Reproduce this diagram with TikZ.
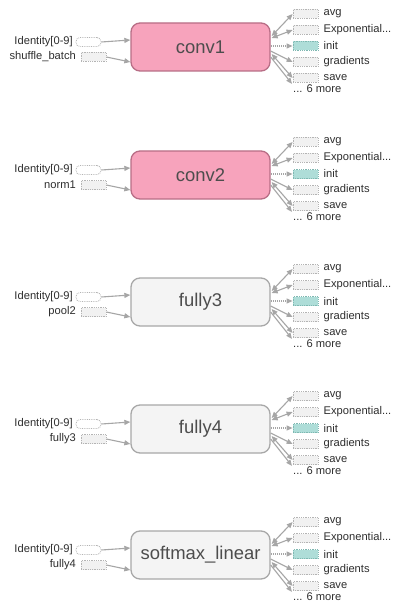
\documentclass[tikz,border=0pt]{standalone}
\usepackage{fontspec}
\setmainfont{Liberation Sans}
\usetikzlibrary{arrows.meta,calc}
\definecolor{pinkf}{HTML}{F7A3BC}
\definecolor{pinkd}{HTML}{B86E86}
\definecolor{grayf}{HTML}{F4F4F4}
\definecolor{grayd}{HTML}{A8A8A8}
\definecolor{smallf}{HTML}{F1F1F1}
\definecolor{dotc}{HTML}{B4B4B4}
\definecolor{initf}{HTML}{AEDDD8}
\definecolor{initd}{HTML}{7FB8B2}
\definecolor{textc}{HTML}{2E2E2E}
\definecolor{arrc}{HTML}{A6A6A6}
\begin{document}
\begin{tikzpicture}[x=1bp,y=-1bp,
  mainbox/.style={draw, rounded corners=9bp, minimum width=139bp, minimum height=48bp,
    line width=1.3bp, font=\fontsize{18.5}{20}\selectfont, text=textc!85, inner sep=0},
  pinkbox/.style={mainbox, fill=pinkf, draw=pinkd},
  graybox/.style={mainbox, fill=grayf, draw=grayd},
  smallbox/.style={draw=dotc, densely dotted, fill=smallf, minimum width=25bp,
    minimum height=9bp, inner sep=0, line width=0.8bp},
  initbox/.style={smallbox, fill=initf, draw=initd},
  idbox/.style={smallbox, fill=white, rounded corners=4bp},
  lab/.style={font=\fontsize{11.2}{12}\selectfont, text=textc, inner sep=0},
  tip/.tip={Triangle[length=6bp,width=5bp]},
  conn/.style={draw=arrc, line width=1.1bp, -tip},
  bconn/.style={draw=arrc, line width=1.1bp, tip-tip},
  dconn/.style={draw=arrc, line width=1.1bp, densely dotted, -tip}
]
\fill[white] (0,0) rectangle (392,603);
\path[use as bounding box] (0,0) rectangle (392,603);
\foreach \c/\nm/\sty/\inp [count=\i] in {
   47/conv1/pinkbox/shuffle\_batch,
   175/conv2/pinkbox/norm1,
   302/fully3/graybox/pool2,
   429/fully4/graybox/fully3,
   555/softmax\_linear/graybox/fully4}{
  % main node
  \node[\sty] (m\i) at (200.5,\c) {\nm};
  % inputs
  \node[idbox] (id\i) at (88.5,{\c-5}) {};
  \node[lab, anchor=east] (idl\i) at (73,{\c-5}) {Identity[0-9]};
  \node[smallbox] (in\i) at (93.5,{\c+10}) {};
  \node[lab, anchor=east] (inl\i) at (76,{\c+10}) {\inp};
  \draw[conn] (id\i.east) -- ([yshift=7bp]m\i.west);
  \draw[conn] (in\i.east) -- ([yshift=-15bp]m\i.west);
  % outputs
  \node[smallbox] (a\i) at (305.5,{\c-33}) {};
  \node[smallbox] (e\i) at (305.5,{\c-17}) {};
  \node[initbox]  (n\i) at (305.5,{\c-1}) {};
  \node[smallbox] (g\i) at (305.5,{\c+15}) {};
  \node[smallbox] (s\i) at (305.5,{\c+31}) {};
  \node[lab, anchor=west] (al\i) at (323.5,{\c-33}) {avg};
  \node[lab, anchor=west] (el\i) at (323.5,{\c-17}) {Exponential...};
  \node[lab, anchor=west] (nl\i) at (323.5,{\c-1}) {init};
  \node[lab, anchor=west] (gl\i) at (323.5,{\c+15}) {gradients};
  \node[lab, anchor=west] (sl\i) at (323.5,{\c+31}) {save};
  \node[lab, anchor=west] (mo\i) at (293,{\c+42}) {... 6 more};
  \draw[bconn] ([yshift=11bp,xshift=1bp]m\i.east) -- (a\i.west);
  \draw[bconn] ([yshift=9bp,xshift=1bp]m\i.east) -- (e\i.west);
  \draw[dconn] ([yshift=1bp]m\i.east) -- (n\i.west);
  \draw[conn] ([yshift=-4bp]m\i.east) -- (g\i.west);
  \draw[bconn] ([yshift=-7bp,xshift=1bp]m\i.east) -- (s\i.west);
  \draw[conn] ([yshift=-10bp]m\i.east) -- ([xshift=-1bp,yshift=1bp]mo\i.north west);
}
\end{tikzpicture}
\end{document}
